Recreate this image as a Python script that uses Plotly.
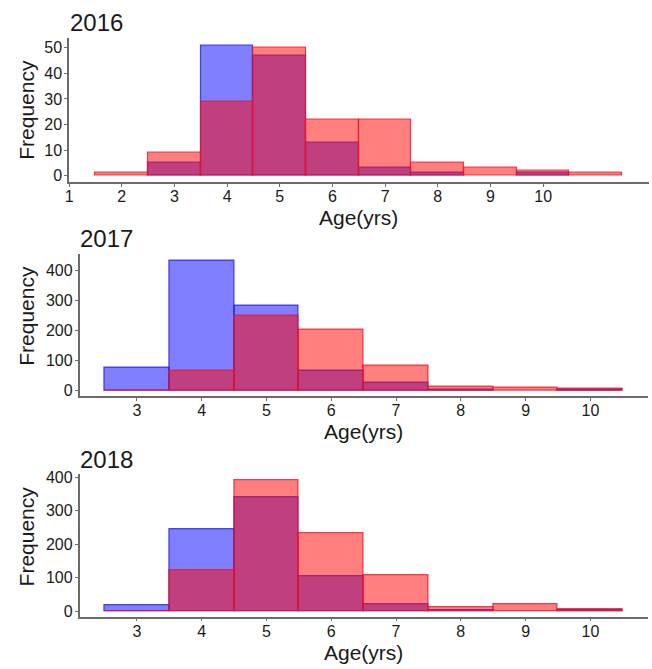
import plotly.graph_objects as go

# Age-frequency histograms, one panel per year; blue and red series overlaid
ages_2016 = [2, 3, 4, 5, 6, 7, 8, 9, 10, 11]
blue_2016 = [0, 5, 51, 47, 13, 3, 1, 0, 1, 0]
red_2016 = [1, 9, 29, 50, 22, 22, 5, 3, 2, 1]

ages_2017 = [3, 4, 5, 6, 7, 8, 9, 10]
blue_2017 = [78, 434, 284, 67, 25, 2, 0, 2]
red_2017 = [1, 68, 251, 204, 84, 12, 8, 5]

ages_2018 = [3, 4, 5, 6, 7, 8, 9, 10]
blue_2018 = [19, 244, 339, 103, 22, 3, 0, 3]
red_2018 = [1, 123, 391, 233, 107, 13, 21, 6]

years = ["2016", "2017", "2018"]
ticks_2016 = list(range(1, 11))
ticks_later = list(range(3, 11))

W, H = 652, 669
FONT = "Liberation Sans, Arial, sans-serif"
AXIS_GREY = "#6b6b6b"
TEXT = "#1a1a1a"

BLUE_FILL = "rgba(0,0,255,0.5)"
BLUE_EDGE = "rgba(20,20,230,0.75)"
RED_FILL = "rgba(255,0,0,0.5)"
RED_EDGE = "rgba(235,20,40,0.8)"

# panel geometry in pixels: (left, right, top, bottom), x range, y range, y ticks
panels = [
    dict(px=(65.5, 648.5, 33, 179.3), xr=[1, 12], yr=[-2.55, 54],
         xt=ticks_2016, yt=[0, 10, 20, 30, 40, 50],
         ages=ages_2016, blue=blue_2016, red=red_2016),
    dict(px=(76, 648.3, 251.7, 395.7), xr=[2.115, 10.894], yr=[-18, 457],
         xt=ticks_later, yt=[0, 100, 200, 300, 400],
         ages=ages_2017, blue=blue_2017, red=red_2017),
    dict(px=(76, 648.3, 475, 619), xr=[2.115, 10.894], yr=[-16, 409],
         xt=ticks_later, yt=[0, 100, 200, 300, 400],
         ages=ages_2018, blue=blue_2018, red=red_2018),
]

fig = go.Figure()
annotations = []


def nz(vals):
    return [v if v else None for v in vals]


for i, p in enumerate(panels):
    n = "" if i == 0 else str(i + 1)
    xa, ya = "x" + n, "y" + n
    left, right, top, bottom = p["px"]

    fig.add_trace(go.Bar(
        x=p["ages"], y=nz(p["blue"]), width=1, xaxis=xa, yaxis=ya,
        marker=dict(color=BLUE_FILL, line=dict(color=BLUE_EDGE, width=1.2)),
        showlegend=False, hoverinfo="x+y",
    ))
    fig.add_trace(go.Bar(
        x=p["ages"], y=nz(p["red"]), width=1, xaxis=xa, yaxis=ya,
        marker=dict(color=RED_FILL, line=dict(color=RED_EDGE, width=1.2)),
        showlegend=False, hoverinfo="x+y",
    ))

    common = dict(
        showline=True, linecolor=AXIS_GREY, linewidth=1.5,
        showgrid=False, zeroline=False, ticks="outside", ticklen=3,
        tickcolor=AXIS_GREY, tickwidth=1,
        tickfont=dict(family=FONT, size=16, color=TEXT),
        fixedrange=True,
    )
    fig.update_layout(**{
        ("xaxis" + n): dict(
            common, domain=[left / W, right / W], range=p["xr"],
            tickmode="array", tickvals=p["xt"], anchor=ya,
            ticklabelstandoff=-4,
        ),
        ("yaxis" + n): dict(
            common, domain=[1 - bottom / H, 1 - top / H], range=p["yr"],
            tickmode="array", tickvals=p["yt"], anchor=xa,
            ticklabelstandoff=-1,
        ),
    })

    # panel title
    annotations.append(dict(
        text=years[i], x=left / W - 0.002, y=1 - (top - 15) / H,
        xref="paper", yref="paper", xanchor="left", yanchor="middle",
        showarrow=False, font=dict(family=FONT, size=24, color=TEXT),
    ))
    # x-axis title
    annotations.append(dict(
        text="Age(yrs)", x=(left + right) / 2 / W, y=1 - (bottom + 36) / H,
        xref="paper", yref="paper", xanchor="center", yanchor="middle",
        showarrow=False, font=dict(family=FONT, size=21, color=TEXT),
    ))
    # y-axis title
    annotations.append(dict(
        text="Frequency", x=23 / W, y=1 - ((top + bottom) / 2 - (0 if i == 0 else 9)) / H,
        xref="paper", yref="paper", xanchor="center", yanchor="middle",
        textangle=-90, showarrow=False,
        font=dict(family=FONT, size=21, color=TEXT),
    ))

fig.update_layout(
    width=W, height=H, margin=dict(l=0, r=0, t=0, b=0),
    barmode="overlay", bargap=0,
    plot_bgcolor="white", paper_bgcolor="white",
    annotations=annotations, showlegend=False,
)

fig.write_html("out.html", config={"displayModeBar": False})
